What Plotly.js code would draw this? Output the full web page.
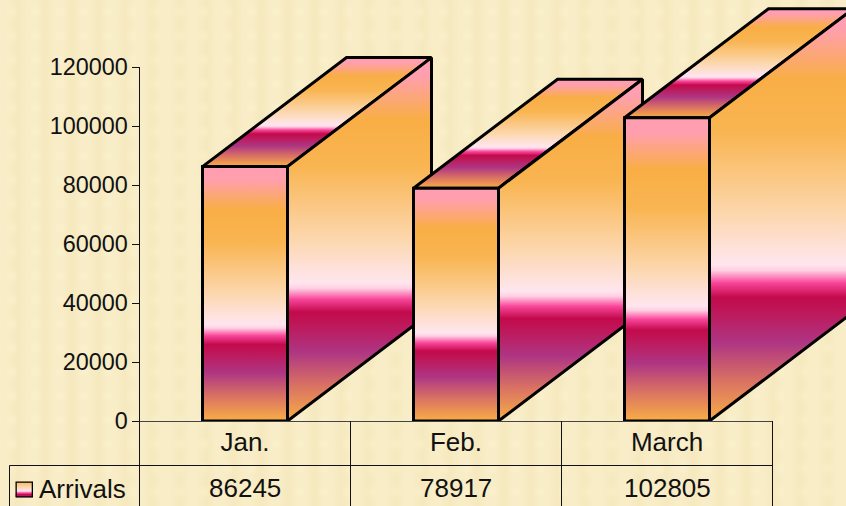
<!DOCTYPE html>
<html><head><meta charset="utf-8">
<script src="https://cdn.plot.ly/plotly-3.0.1.min.js"></script>
<style>
html,body{margin:0;padding:0;width:846px;height:506px;overflow:hidden;background-color:#f7ebc3;
background-image:radial-gradient(circle at 12px 12px,rgba(255,248,215,.22) 0,rgba(255,248,215,.22) 3px,rgba(255,248,215,0) 7px),
repeating-linear-gradient(90deg,#f8edc7 0,#f8edc7 8px,#f6e9bf 17px,#f6e9bf 19px,#f8edc7 27px);
background-size:24px 24px,auto;}
#chart{width:846px;height:506px}
</style></head><body><div id="chart"></div>
<script>
var categories = ['Jan.', 'Feb.', 'March'];
var arrivals = [86245, 78917, 102805];
var yTicks = [0, 20000, 40000, 60000, 80000, 100000, 120000];
var seriesName = 'Arrivals';

var W = 846, H = 506;
var axisLeft = 139.5, axisRight = 772.5, zeroY = 421, topY = 67;
var axisFont = 23.4, tableFont = 26, textCol = '#111111', fontFam = '"Liberation Sans", Arial, sans-serif';
var catPx = (axisRight - axisLeft) / categories.length, unitPx = (zeroY - topY) / 120000;
var barWidth = 85 / catPx, depthX = 144 / catPx, depthY = 109 / unitPx;

var gradient = [
  [0.00, '#ff9eb2'], [0.05, '#ff9fae'], [0.17, '#f9ae45'], [0.30, '#f9b552'],
  [0.50, '#fcd7ae'], [0.62, '#ffe6ef'], [0.635, '#ffcfe2'], [0.665, '#f9459a'], [0.70, '#c20a4c'],
  [0.74, '#bd1a5c'], [0.81, '#ae3583'], [0.90, '#d87064'], [1.00, '#f9ae45']
];
var swatchGradient = [[0, '#f9b552'], [0.35, '#fcd7ae'], [0.6, '#ffe6ef'], [0.72, '#f9459a'], [0.82, '#c20a4c'], [1, '#ae3583']];
function flip(g) { return g.map(function(s){return [1 - s[0], s[1]];}).reverse(); }
function face(xs, ys, w, g) {
  return {x: xs, y: ys, type: 'scatter', mode: 'lines', fill: 'toself',
    line: {color: '#000', width: w || 3}, hoverinfo: 'skip', showlegend: false,
    fillgradient: {type: 'vertical', colorscale: flip(g || gradient)}};
}
var traces = [];
categories.forEach(function(c, i) {
  var v = arrivals[i], l = i + 0.5 - barWidth / 2, r = i + 0.5 + barWidth / 2;
  traces.push(face([l, l + depthX, r + depthX, r, l], [v, v + depthY, v + depthY, v, v]));
  traces.push(face([r, r + depthX, r + depthX, r, r], [0, depthY, v + depthY, v, 0]));
  traces.push(face([l, r, r, l, l], [0, 0, v, v, 0]));
});
var sw = face([0, 1, 1, 0, 0], [0, 0, 1, 1, 0], 2.6, swatchGradient);
sw.xaxis = 'x2'; sw.yaxis = 'y2';
traces.push(sw);

function px(x) { return x / W; }
function py(y) { return 1 - y / H; }
function line(x0, y0, x1, y1, col) {
  return {type: 'line', xref: 'paper', yref: 'paper', x0: px(x0), y0: py(y0), x1: px(x1), y1: py(y1),
    line: {color: col || '#111', width: 1}, layer: 'below'};
}
var shapes = [line(axisLeft, topY, axisLeft, H), line(axisLeft, zeroY + 0.5, axisRight, zeroY + 0.5, '#444'),
  line(9.5, 465.5, axisRight, 465.5), line(9.5, 465.5, 9.5, H)];
for (var k = 1; k <= categories.length; k++) {
  var xx = axisLeft + k * catPx;
  shapes.push(line(xx, zeroY, xx, H));
}

var annotations = arrivals.map(function(v, i) {
  return {x: i + 0.5, xref: 'x', y: py(488), yref: 'paper', text: String(v), showarrow: false,
    xanchor: 'center', yanchor: 'middle', font: {size: tableFont, color: textCol, family: fontFam}};
});
annotations.push({x: px(39), xref: 'paper', y: py(489), yref: 'paper', text: seriesName, showarrow: false,
  xanchor: 'left', yanchor: 'middle', xshift: -2, font: {size: tableFont, color: textCol, family: fontFam}});

var layout = {
  width: W, height: H, margin: {l: 0, r: 0, t: 0, b: 0}, showlegend: false,
  paper_bgcolor: 'rgba(0,0,0,0)', plot_bgcolor: 'rgba(0,0,0,0)', hovermode: false,
  font: {family: fontFam, size: axisFont, color: textCol},
  xaxis: {domain: [px(axisLeft), 1], range: [0, (W - axisLeft) / catPx], tickvals: [0.5, 1.5, 2.5],
    ticktext: categories, ticks: '', showgrid: false, zeroline: false, showline: false,
    tickfont: {size: tableFont, color: textCol, family: fontFam}, ticklabelstandoff: 3, anchor: 'y', fixedrange: true},
  yaxis: {domain: [py(zeroY), 1], range: [0, zeroY / unitPx], tickvals: yTicks, ticktext: yTicks.map(String),
    ticks: 'outside', ticklen: 7, tickwidth: 1, tickcolor: '#111', showgrid: false, zeroline: false, showline: false,
    ticklabelstandoff: -1, anchor: 'x', fixedrange: true},
  xaxis2: {domain: [px(15.5), px(33)], range: [0, 1], visible: false, anchor: 'y2', fixedrange: true},
  yaxis2: {domain: [py(497.5), py(481.5)], range: [0, 1], visible: false, anchor: 'x2', fixedrange: true},
  shapes: shapes,
  annotations: annotations
};
Plotly.newPlot('chart', traces, layout, {displayModeBar: false, staticPlot: true});
</script></body></html>
